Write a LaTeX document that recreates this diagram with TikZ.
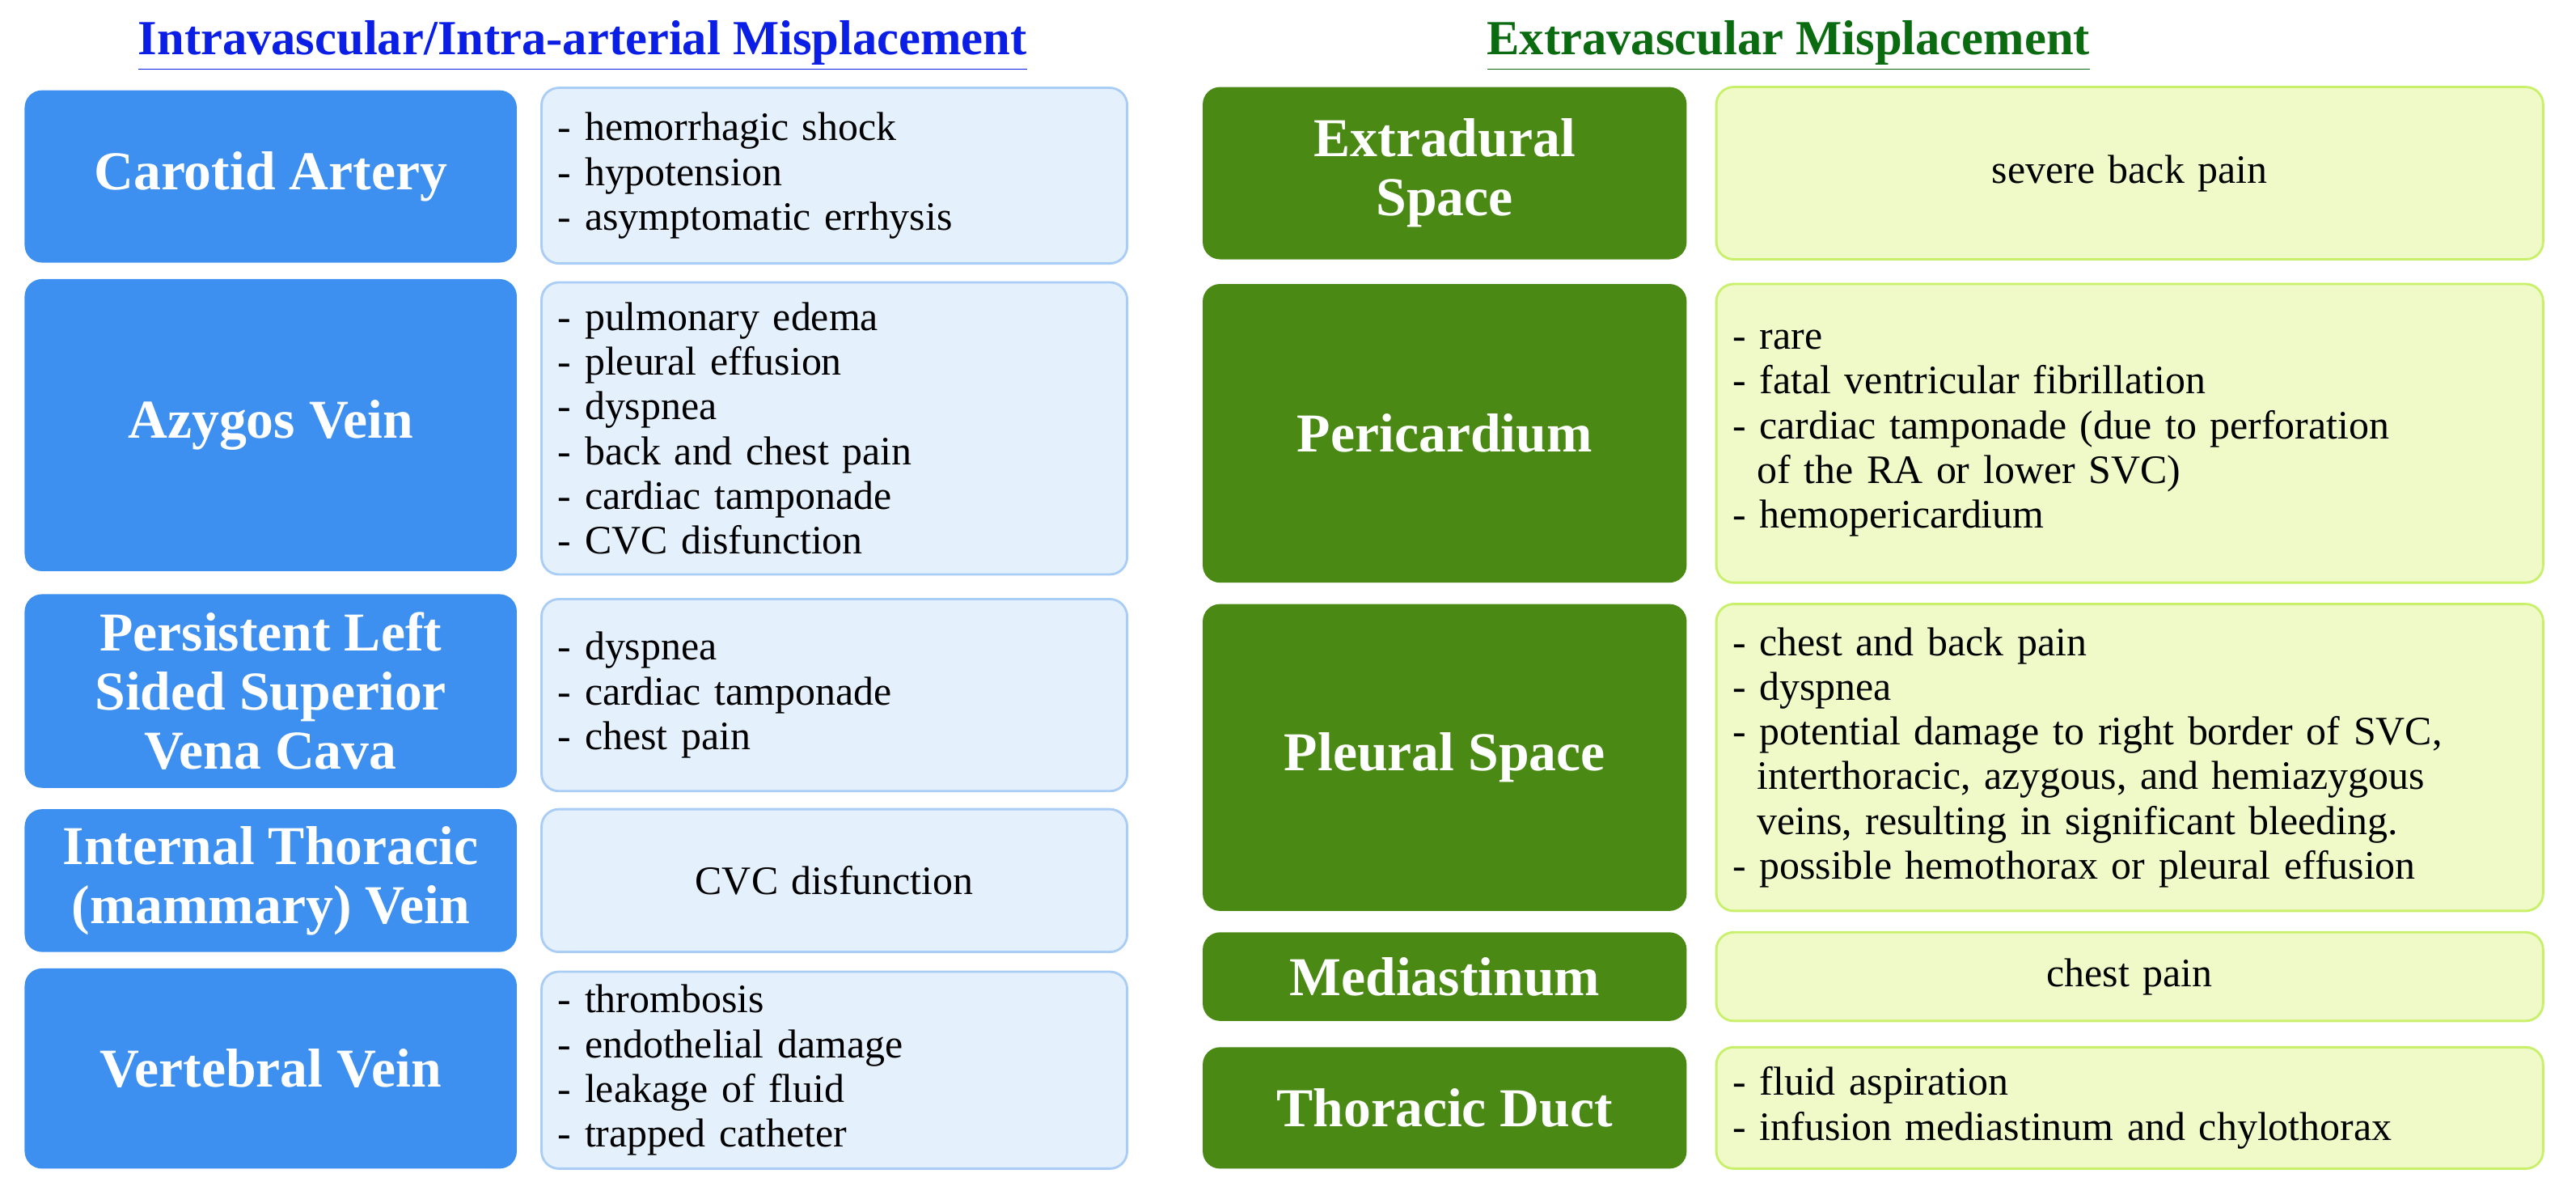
\documentclass[tikz,border=0pt]{standalone}
\usepackage{fontspec}
\setmainfont{Liberation Serif}
\usepackage{xcolor}
\definecolor{siteblue}{HTML}{3D8FF0}
\definecolor{signblue}{HTML}{E4F0FC}
\definecolor{lineblue}{HTML}{A9CDF5}
\definecolor{sitegreen}{HTML}{4A8A14}
\definecolor{signgreen}{HTML}{EFFAC8}
\definecolor{linegreen}{HTML}{C8F06A}
\definecolor{headblue}{HTML}{0A1EE6}
\definecolor{headgreen}{HTML}{0A6B10}
\tikzset{
  site/.style={rounded corners=6pt, minimum width=#1, align=center, text=white,
    font=\fontsize{19}{20.5}\selectfont\bfseries},
  bluesite/.style={site=6cm, fill=siteblue},
  greensite/.style={site=5.9cm, fill=sitegreen},
  sign/.style={rounded corners=6pt, line width=0.8pt, minimum width=#1, inner xsep=0.2cm,
    text width=#1-0.4cm, font=\fontsize{14}{15.5}\selectfont},
  bluesign/.style={sign=7.14cm, fill=signblue, draw=lineblue},
  greensign/.style={sign=10.08cm, fill=signgreen, draw=linegreen},
  head/.style={font=\fontsize{17}{18}\selectfont\bfseries}
}
\begin{document}
\begin{tikzpicture}[x=0.02cm,y=-0.02cm]
  \useasboundingbox (0,0) rectangle (1570,728);

  % Titles
  \node [head, text=headblue] (titleL) at (355,28) {\underline{Intravascular/Intra-arterial Misplacement}};
  \node [head, text=headgreen] (titleR) at (1090,28) {\underline{Extravascular Misplacement}};

  % Intravascular column
  \node [bluesite, minimum height=2.1cm] (carotid) at (165,107.5) {Carotid Artery};
  \node [bluesign, minimum height=2.14cm, align=left] (carotidS) at (508.5,107) {- hemorrhagic shock\\- hypotension\\- asymptomatic errhysis};

  \node [bluesite, minimum height=3.56cm] (azygos) at (165,259) {Azygos Vein};
  \node [bluesign, minimum height=3.56cm, align=left] (azygosS) at (508.5,261) {- pulmonary edema\\- pleural effusion\\- dyspnea\\- back and chest pain\\- cardiac tamponade\\- CVC disfunction};

  \node [bluesite, minimum height=2.36cm] (persist) at (165,421) {Persistent Left\\Sided Superior\\Vena Cava};
  \node [bluesign, minimum height=2.34cm, align=left] (persistS) at (508.5,423.5) {- dyspnea\\- cardiac tamponade\\- chest pain};

  \node [bluesite, minimum height=1.74cm] (thoracic) at (165,536.5) {Internal Thoracic\\(mammary) Vein};
  \node [bluesign, minimum height=1.74cm, align=center] (thoracicS) at (508.5,536.5) {CVC disfunction};

  \node [bluesite, minimum height=2.44cm] (vertebral) at (165,651) {Vertebral Vein};
  \node [bluesign, minimum height=2.4cm, align=left] (vertebralS) at (508.5,652) {- thrombosis\\- endothelial damage\\- leakage of fluid\\- trapped catheter};

  % Extravascular column
  \node [greensite, minimum height=2.1cm] (extradural) at (880.5,105.5) {Extradural\\Space};
  \node [greensign, minimum height=2.1cm, align=center] (extraduralS) at (1298,105.5) {severe back pain};

  \node [greensite, minimum height=3.64cm] (pericard) at (880.5,264) {Pericardium};
  \node [greensign, minimum height=3.64cm, align=left] (pericardS) at (1298,264) {- rare\\- fatal ventricular fibrillation\\- cardiac tamponade (due to perforation\\\hspace*{0.6em}of the RA or lower SVC)\\- hemopericardium};

  \node [greensite, minimum height=3.74cm] (pleural) at (880.5,461.5) {Pleural Space};
  \node [greensign, minimum height=3.74cm, align=left] (pleuralS) at (1298,461.5) {- chest and back pain\\- dyspnea\\- potential damage to right border of SVC,\\\hspace*{0.6em}interthoracic, azygous, and hemiazygous\\\hspace*{0.6em}veins, resulting in significant bleeding.\\- possible hemothorax or pleural effusion};

  \node [greensite, minimum height=1.08cm] (mediast) at (880.5,595) {Mediastinum};
  \node [greensign, minimum height=1.08cm, align=center] (mediastS) at (1298,595) {chest pain};

  \node [greensite, minimum height=1.48cm] (duct) at (880.5,675) {Thoracic Duct};
  \node [greensign, minimum height=1.48cm, align=left] (ductS) at (1298,675) {- fluid aspiration\\- infusion mediastinum and chylothorax};
\end{tikzpicture}
\end{document}
